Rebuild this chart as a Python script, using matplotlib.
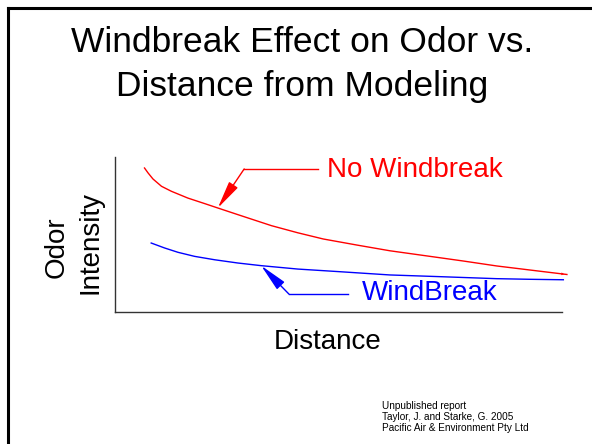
import matplotlib.pyplot as plt
from matplotlib.lines import Line2D

plt.rcParams['font.family'] = ['Liberation Sans', 'DejaVu Sans']

# curves (arbitrary units, distance 0-100, intensity 0-100)
dist_no_wb = [6.6, 7.4, 8.5, 10.4, 12.6, 16.3, 20.1, 23.0, 27.5, 31.3, 35.0, 40.9,
              46.6, 54.1, 61.5, 72.7, 77.9, 85.4, 92.8, 101.1]
odor_no_wb = [92.9, 89.7, 85.8, 81.1, 77.9, 73.5, 69.9, 67.1, 62.8, 59.2, 55.7, 51.1,
              47.1, 43.2, 39.5, 35.0, 32.9, 29.7, 27.1, 24.2]
dist_wb = [8.1, 11.1, 14.1, 17.8, 22.3, 27.5, 32.7, 40.9, 50.3, 61.5, 72.7, 85.4, 92.8, 100.3]
odor_wb = [44.5, 41.3, 38.5, 35.9, 33.7, 31.6, 29.9, 27.7, 26.0, 23.9, 22.8, 21.5, 21.1, 20.8]

RED = '#ff0000'
BLUE = '#0000ff'

fig = plt.figure(figsize=(5.92, 4.44), dpi=100)
W, H = 592, 444

# slide frame (top and left edges visible)
fig.add_artist(Line2D([8 / W, 8 / W], [0, 1 - 8 / H], color='black', lw=2.2,
                      transform=fig.transFigure))
fig.add_artist(Line2D([8 / W, 1], [1 - 8 / H, 1 - 8 / H], color='black', lw=2.2,
                      transform=fig.transFigure))

ax = fig.add_axes([115 / W, 1 - 312 / H, (562 - 115) / W, (312 - 157) / H])
ax.plot(dist_no_wb, odor_no_wb, color=RED, lw=1.0, clip_on=False)
ax.plot(dist_wb, odor_wb, color=BLUE, lw=1.0, clip_on=False)
ax.set_xlim(0, 100)
ax.set_ylim(0, 100)
ax.set_xticks([])
ax.set_yticks([])
for s in ['top', 'right']:
    ax.spines[s].set_visible(False)
for s in ['left', 'bottom']:
    ax.spines[s].set_color('#333333')
    ax.spines[s].set_linewidth(1.0)

# tiny arrow tip at end of red curve
ax.annotate('', xy=(dist_no_wb[-1], odor_no_wb[-1]), xytext=(dist_no_wb[-2], odor_no_wb[-2]),
            arrowprops=dict(arrowstyle='-|>', color=RED, lw=0, mutation_scale=5),
            annotation_clip=False)

# callouts
ax.plot([45.4, 28.9], [92.3, 92.3], color=RED, lw=1.0, clip_on=False)
ax.annotate('', xy=(23.0, 67.1), xytext=(28.9, 92.3),
            arrowprops=dict(arrowstyle='-|>,head_length=1.7,head_width=0.32',
                            color=RED, lw=1.0, shrinkA=0, shrinkB=0))
ax.text(47.4, 91.6, 'No Windbreak', color=RED, fontsize=20, ha='left', va='center')

ax.plot([52.1, 38.9], [11.6, 11.6], color=BLUE, lw=1.0, clip_on=False)
ax.annotate('', xy=(32.7, 29.9), xytext=(38.9, 11.6),
            arrowprops=dict(arrowstyle='-|>,head_length=1.7,head_width=0.32',
                            color=BLUE, lw=1.0, shrinkA=0, shrinkB=0))
ax.text(55.3, 12.3, 'WindBreak', color=BLUE, fontsize=20, ha='left', va='center')

# axis labels
fig.text(57 / W, 1 - 247 / H, 'Odor', rotation=90, fontsize=20, ha='center', va='center')
fig.text(90 / W, 1 - 242 / H, 'Intensity', rotation=90, fontsize=20, ha='center', va='center')
fig.text(328 / W, 1 - 342 / H, 'Distance', fontsize=20, ha='center', va='center')

# title
fig.text(302 / W, 1 - 52 / H, 'Windbreak Effect on Odor vs.', fontsize=25.5,
         ha='center', va='baseline')
fig.text(302 / W, 1 - 96 / H, 'Distance from Modeling', fontsize=25.5,
         ha='center', va='baseline')

# source note
notes = ['Unpublished report', 'Taylor, J. and Starke, G. 2005',
         'Pacific Air & Environment Pty Ltd']
for i, line in enumerate(notes):
    fig.text(382 / W, 1 - (409 + 11 * i) / H, line, fontsize=7.2, ha='left', va='baseline')

fig.savefig('out.png', dpi=100)
